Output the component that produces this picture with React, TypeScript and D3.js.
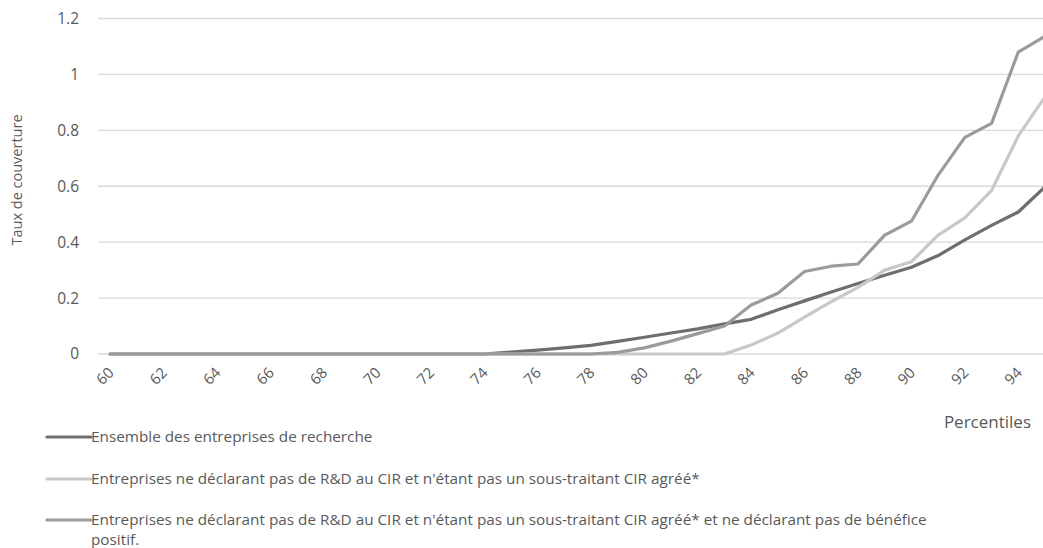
import React from "react";
import * as d3 from "d3";

const percentiles = [60, 61, 62, 63, 64, 65, 66, 67, 68, 69, 70, 71, 72, 73, 74, 75, 76, 77, 78, 79, 80, 81, 82, 83, 84, 85, 86, 87, 88, 89, 90, 91, 92, 93, 94, 95];
const tickLabels = [60, 62, 64, 66, 68, 70, 72, 74, 76, 78, 80, 82, 84, 86, 88, 90, 92, 94];
const yTicks = [0, 0.2, 0.4, 0.6, 0.8, 1, 1.2];

const ensemble = [0, 0, 0, 0, 0, 0, 0, 0, 0, 0, 0, 0, 0, 0, 0, 0.007, 0.014, 0.022, 0.031, 0.045, 0.06, 0.075, 0.09, 0.108, 0.124, 0.158, 0.19, 0.222, 0.252, 0.282, 0.31, 0.352, 0.408, 0.46, 0.508, 0.598];
const sansRD = [0, 0, 0, 0, 0, 0, 0, 0, 0, 0, 0, 0, 0, 0, 0, 0, 0, 0, 0, 0, 0, 0, 0, 0, 0.032, 0.075, 0.132, 0.187, 0.238, 0.3, 0.33, 0.425, 0.487, 0.585, 0.78, 0.92];
const sansRDsansBenef = [0, 0, 0, 0, 0, 0, 0, 0, 0, 0, 0, 0, 0, 0, 0, 0, 0, 0, 0, 0.006, 0.022, 0.046, 0.073, 0.1, 0.175, 0.217, 0.295, 0.314, 0.322, 0.425, 0.475, 0.64, 0.775, 0.825, 1.08, 1.137];

const seriesNames = [
  "Ensemble des entreprises de recherche",
  "Entreprises ne déclarant pas de R&D au CIR et n'étant pas un sous-traitant CIR agréé*",
  "Entreprises ne déclarant pas de R&D au CIR et n'étant pas un sous-traitant CIR agréé* et ne déclarant pas de bénéfice",
];
const seriesColors = ["#6e6e6e", "#c8c8c8", "#9b9b9b"];

const W = 1043;
const H = 548;
const FONT = "'Open Sans', sans-serif";
const TEXT = "#595959";

export default function App() {
  const x = d3.scaleLinear().domain([60, 95]).range([110, 1045]);
  const y = d3.scaleLinear().domain([0, 1.2]).range([354, 18.5]);
  const line = d3
    .line<number>()
    .x((_, i) => x(percentiles[i]))
    .y((d) => y(d));
  const allSeries = [ensemble, sansRD, sansRDsansBenef];
  const legendY = [437, 479, 520];

  return (
    <svg
      width={W}
      height={H}
      style={{ position: "absolute", left: 0, top: 0, background: "#fff" }}
      fontFamily={FONT}
    >
      {yTicks.map((t) => (
        <g key={t}>
          <line x1={98} x2={W} y1={y(t)} y2={y(t)} stroke="#d9d9d9" strokeWidth={1.3} />
          <text x={79} y={y(t)} dy="0.35em" textAnchor="end" fontSize={15.5} fill={TEXT}>
            {t}
          </text>
        </g>
      ))}
      <text
        transform={`translate(22,180) rotate(-90)`}
        textAnchor="middle"
        fontSize={14.5}
        fill={TEXT}
      >
        Taux de couverture
      </text>
      {tickLabels.map((t) => (
        <text
          key={t}
          transform={`translate(${x(t) + 1},370) rotate(-45)`}
          textAnchor="end"
          dy="0.35em"
          fontSize={15}
          fill={TEXT}
        >
          {t}
        </text>
      ))}
      <text x={1031} y={428} textAnchor="end" fontSize={17} fill={TEXT}>
        Percentiles
      </text>
      <defs>
        <clipPath id="plotclip">
          <rect x={0} y={0} width={W} height={400} />
        </clipPath>
      </defs>
      <g clipPath="url(#plotclip)">
        {allSeries.map((s, i) => (
          <path
            key={i}
            d={line(s) || ""}
            fill="none"
            stroke={seriesColors[i]}
            strokeWidth={3.2}
            strokeLinejoin="round"
            strokeLinecap="round"
          />
        ))}
      </g>
      {seriesNames.map((name, i) => (
        <g key={i}>
          <line x1={47} x2={91} y1={legendY[i]} y2={legendY[i]} stroke={seriesColors[i]} strokeWidth={3.2} strokeLinecap="round" />
          <text x={91} y={legendY[i]} dy="0.35em" fontSize={15.3} fill={TEXT}>
            {name}
          </text>
        </g>
      ))}
      <text x={91} y={540} dy="0.35em" fontSize={15.3} fill={TEXT}>
        positif.
      </text>
    </svg>
  );
}
